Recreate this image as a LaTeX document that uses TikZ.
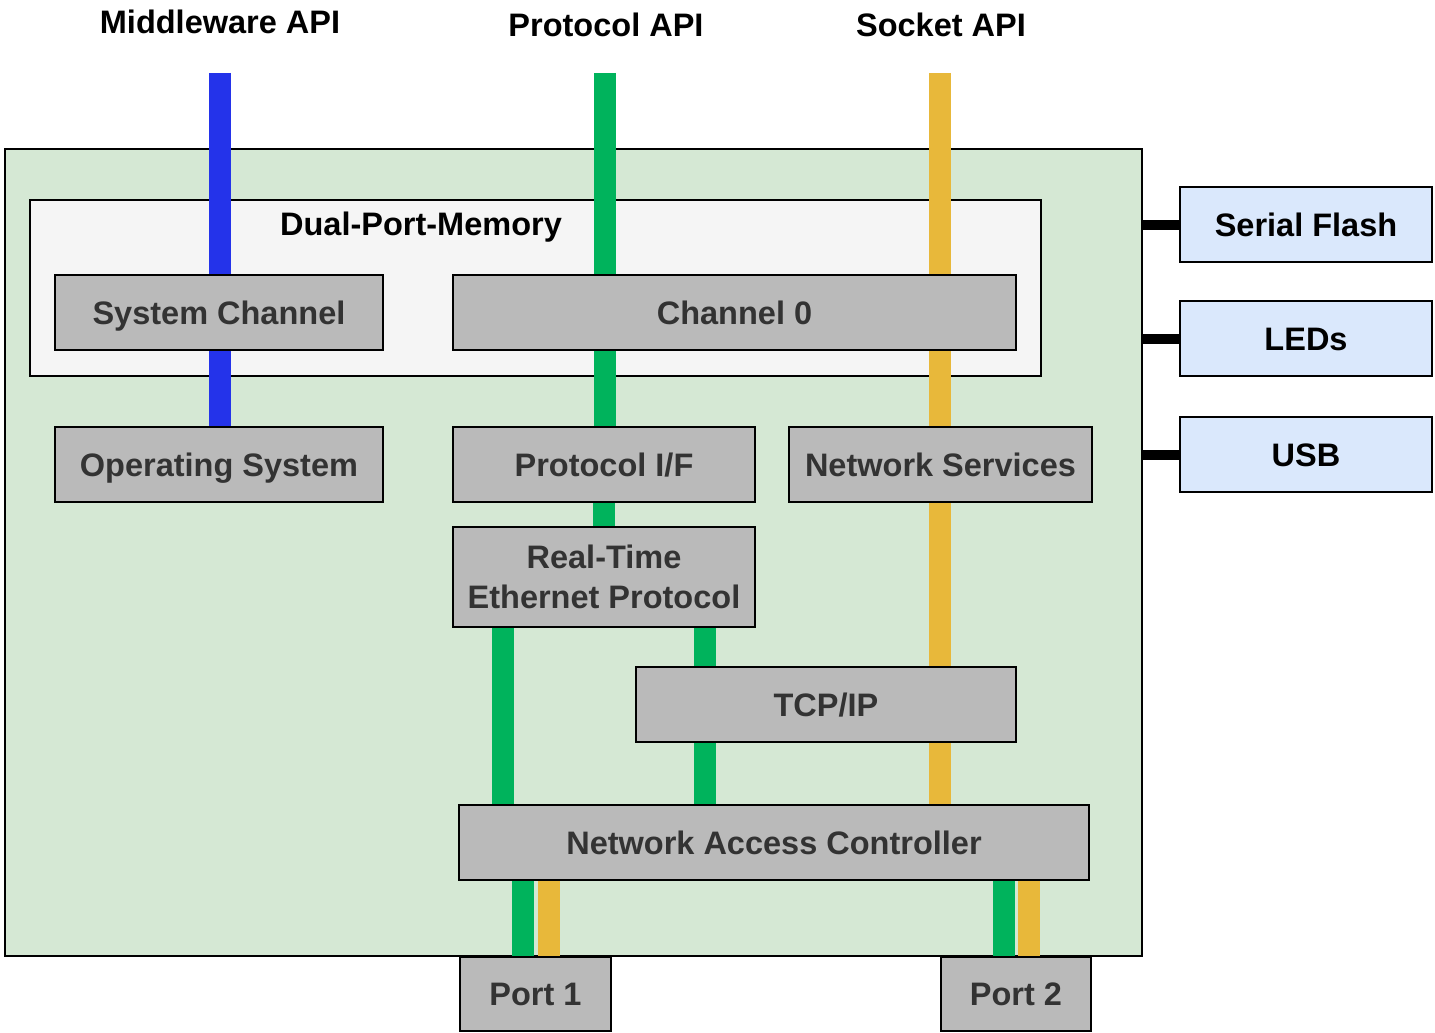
\documentclass[tikz,border=0pt]{standalone}
\usepackage{fontspec}
\setmainfont{Liberation Sans}
\pgfdeclarelayer{bg}
\pgfdeclarelayer{mid}
\pgfsetlayers{bg,mid,main}
\definecolor{chipfill}{HTML}{D5E8D4}
\definecolor{dpmfill}{HTML}{F5F5F5}
\definecolor{boxfill}{HTML}{BABABA}
\definecolor{boxtext}{HTML}{333333}
\definecolor{sidefill}{HTML}{DAE8FC}
\definecolor{apiblue}{HTML}{2433EA}
\definecolor{apigreen}{HTML}{00B35C}
\definecolor{apiorange}{HTML}{E8B83A}
\tikzset{
  lbl/.style={font=\fontsize{32.5}{40}\selectfont\bfseries, inner sep=0pt},
  oneline/.style={text height=23.3pt, text depth=0pt},
  blk/.style={lbl, draw=black, line width=2pt, fill=boxfill, text=boxtext, align=center, minimum height=75pt},
  sidebox/.style={blk, oneline, fill=sidefill, text=black, minimum width=252pt},
  lane/.style={line width=22pt},
  tie/.style={line width=10pt, draw=black}
}
\begin{document}
\begin{tikzpicture}[x=1pt,y=-1pt]
\useasboundingbox (0,0) rectangle (1435,1033);

% containers
\begin{pgfonlayer}{bg}
\node[draw=black, line width=2pt, fill=chipfill, minimum width=1137pt, minimum height=807pt, inner sep=0pt] (chip) at (573.5,552.5) {};
\node[draw=black, line width=2pt, fill=dpmfill, minimum width=1011pt, minimum height=176pt, inner sep=0pt] (dpm) at (535.5,288) {};
\end{pgfonlayer}
\node[lbl, oneline, text=black] (dpml) at (421,224) {Dual-Port-Memory};

% titles
\node[lbl, oneline] (tmw) at (220,22) {Middleware API};
\node[lbl, oneline] (tpr) at (606,25) {Protocol API};
\node[lbl, oneline] (tso) at (941,25) {Socket API};

% blocks
\node[blk, oneline, minimum width=328pt] (sys) at (219,312.5) {System Channel};
\node[blk, oneline, minimum width=563pt] (ch0) at (734.5,312.5) {Channel 0};
\node[blk, oneline, minimum width=328pt] (os) at (219,464.5) {Operating System};
\node[blk, oneline, minimum width=302pt] (pif) at (604,464.5) {Protocol I/F};
\node[blk, oneline, minimum width=303pt] (ns) at (940.5,464.5) {Network Services};
\node[blk, minimum width=302pt, minimum height=100pt] (rte) at (604,577) {Real-Time\\Ethernet Protocol};
\node[blk, oneline, minimum width=380pt] (tcp) at (826,704.5) {TCP/IP};
\node[blk, oneline, minimum width=630pt] (nac) at (774,842.5) {Network Access Controller};
\node[blk, oneline, minimum width=151pt, minimum height=74pt] (p1) at (535.5,994) {Port 1};
\node[blk, oneline, minimum width=150pt, minimum height=74pt] (p2) at (1016,994) {Port 2};

\node[sidebox] (sf) at (1306,224.5) {Serial Flash};
\node[sidebox] (led) at (1306,338.5) {LEDs};
\node[sidebox] (usb) at (1306,454.5) {USB};

% lane coordinates
\coordinate (mwtop) at (219.5,73);
\coordinate (prtop) at (605,73);
\coordinate (sotop) at (940,73);
\coordinate (gl) at (503,0);
\coordinate (gr) at (705,0);
\coordinate (p1g) at (523,0);
\coordinate (p1o) at (548.5,0);
\coordinate (p2g) at (1004,0);
\coordinate (p2o) at (1029,0);

\begin{pgfonlayer}{mid}
\draw[lane, apiblue] (mwtop) -- (mwtop |- os.north);
\draw[lane, apigreen] (prtop) -- (prtop |- pif.north);
\draw[lane, apigreen] (pif.south) -- (rte.north);
\draw[lane, apigreen] (gl |- rte.south) -- (gl |- nac.north);
\draw[lane, apigreen] (gr |- rte.south) -- (gr |- nac.north);
\draw[lane, apiorange] (sotop) -- (sotop |- nac.north);
\draw[lane, apigreen] (p1g |- nac.south) -- (p1g |- chip.south);
\draw[lane, apiorange] (p1o |- nac.south) -- (p1o |- chip.south);
\draw[lane, apigreen] (p2g |- nac.south) -- (p2g |- chip.south);
\draw[lane, apiorange] (p2o |- nac.south) -- (p2o |- chip.south);
\end{pgfonlayer}

% side ties
\draw[tie] (sf.west) -- (sf.west -| chip.east);
\draw[tie] (led.west) -- (led.west -| chip.east);
\draw[tie] (usb.west) -- (usb.west -| chip.east);
\end{tikzpicture}
\end{document}
